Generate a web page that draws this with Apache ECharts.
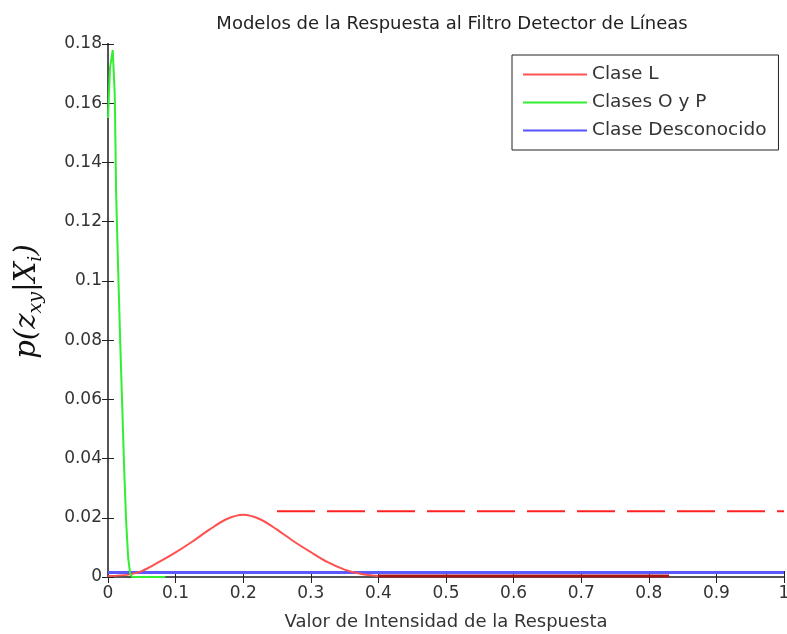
<!DOCTYPE html>
<html>
<head>
<meta charset="utf-8">
<script src="https://cdn.jsdelivr.net/npm/echarts@6/dist/echarts.min.js"></script>
<style>
  html, body { margin: 0; padding: 0; background: #fff; }
  #chart { width: 787px; height: 634px; }
</style>
</head>
<body>
<div id="chart"></div>
<script>
// Clase L (campana roja)
var claseLX = [0, 0.03, 0.05, 0.075, 0.1, 0.125, 0.15, 0.175, 0.2, 0.225, 0.25, 0.275, 0.3, 0.325, 0.35, 0.375, 0.4];
var claseLY = [0.0003, 0.0008, 0.002, 0.005, 0.0083, 0.012, 0.016, 0.0195, 0.021, 0.0195, 0.016, 0.012, 0.0084, 0.005, 0.0025, 0.001, 0.0003];
// cola de la Clase L (tramo oscuro en cero)
var colaLX = [0.4, 0.83];
var colaLY = [0.0003, 0.0003];
// linea discontinua roja
var umbralX = [0.25, 1];
var umbralY = [0.0222, 0.0222];
// Clases O y P
var claseOPX = [0, 0.003, 0.007, 0.01, 0.012, 0.015, 0.018, 0.021, 0.024, 0.027, 0.03, 0.033, 0.036, 0.045, 0.085];
var claseOPY = [0.155, 0.172, 0.178, 0.163, 0.13, 0.104, 0.08, 0.058, 0.036, 0.018, 0.006, 0.001, 0, 0, 0];
// Clase Desconocido
var desconX = [0, 1];
var desconY = [0.0015, 0.0015];

function pares(xs, ys) {
  var out = [];
  for (var i = 0; i < xs.length; i++) out.push([xs[i], ys[i]]);
  return out;
}

var myChart = echarts.init(document.getElementById("chart"));
var axisColor = "#555";
var fuente = "DejaVu Sans";

myChart.setOption({
  animation: false,
  title: {
    text: "Modelos de la Respuesta al Filtro Detector de Líneas",
    left: 447,
    textAlign: "center",
    top: 10,
    textStyle: { fontFamily: fuente, fontWeight: "normal", fontSize: 18, color: "#222" }
  },
  legend: {
    orient: "vertical",
    left: 512,
    top: 55,
    backgroundColor: "#fff",
    borderColor: "#222",
    borderWidth: 1,
    padding: [10, 12, 10, 11],
    itemWidth: 64,
    itemHeight: 17,
    itemGap: 9,
    icon: "path://M0,7 L64,7 L64,9 L0,9 Z",
    textStyle: { fontFamily: fuente, fontSize: 18.5, color: "#333" },
    data: ["Clase L", "Clases O y P", "Clase Desconocido"]
  },
  grid: { left: 108, right: 3, top: 44, bottom: 57, containLabel: false, outerBoundsMode: "none" },
  xAxis: [
    {
      type: "value",
      min: 0,
      max: 1,
      interval: 0.1,
      name: "Valor de Intensidad de la Respuesta",
      nameLocation: "middle",
      nameGap: 36,
      nameTextStyle: { fontFamily: fuente, fontSize: 18, color: "#333" },
      axisLine: { show: true, lineStyle: { color: axisColor, width: 2 } },
      axisTick: { inside: true, length: 6, lineStyle: { color: "#222" } },
      axisLabel: { fontFamily: fuente, fontSize: 17, color: "#333", margin: 8,
        formatter: function (v) { return String(Math.round(v * 10) / 10); } },
      splitLine: { show: false }
    },
    {
      type: "value",
      position: "top",
      min: 0,
      max: 1,
      interval: 0.1,
      axisLine: { show: true, lineStyle: { color: axisColor, width: 2 } },
      axisTick: { inside: true, length: 6, lineStyle: { color: "#222" } },
      axisLabel: { show: false },
      splitLine: { show: false }
    }
  ],
  yAxis: [
    {
      type: "value",
      min: 0,
      max: 0.18,
      interval: 0.02,
      name: "{n|p(z}{s|xy}{n||X}{s|i}{n|)}",
      nameLocation: "middle",
      nameGap: 62,
      nameRotate: 90,
      nameTextStyle: {
        padding: [0, 0, 0, 18],
        rich: {
          n: { fontFamily: "DejaVu Serif", fontStyle: "italic", fontSize: 29, color: "#111", lineHeight: 38, verticalAlign: "middle" },
          s: { fontFamily: "DejaVu Serif", fontStyle: "italic", fontSize: 19, color: "#111", lineHeight: 38, verticalAlign: "bottom", padding: [13, 0, 0, 0] }
        }
      },
      axisLine: { show: true, lineStyle: { color: axisColor, width: 2 } },
      axisTick: { inside: true, length: 6, lineStyle: { color: "#222" } },
      axisLabel: { fontFamily: fuente, fontSize: 17, color: "#333", margin: 6,
        formatter: function (v) { return String(Math.round(v * 100) / 100); } },
      splitLine: { show: false }
    },
    {
      type: "value",
      position: "right",
      min: 0,
      max: 0.18,
      interval: 0.02,
      axisLine: { show: true, lineStyle: { color: axisColor, width: 2 } },
      axisTick: { inside: true, length: 6, lineStyle: { color: "#222" } },
      axisLabel: { show: false },
      splitLine: { show: false }
    }
  ],
  series: [
    {
      name: "Clase Desconocido",
      type: "line",
      symbol: "none",
      color: "#5555ff",
      lineStyle: { width: 3, color: "#5a5aff" },
      data: pares(desconX, desconY),
      z: 2
    },
    {
      name: "Clase L",
      type: "line",
      symbol: "none",
      smooth: 0.3,
      color: "#ff5555",
      lineStyle: { width: 2, color: "#ff5050" },
      data: pares(claseLX, claseLY),
      z: 3
    },
    {
      name: "Clase L cola",
      type: "line",
      symbol: "none",
      lineStyle: { width: 3, color: "#a81818" },
      data: pares(colaLX, colaLY),
      z: 3
    },
    {
      name: "Umbral L",
      type: "line",
      symbol: "none",
      lineStyle: { width: 2, color: "#ff2020", type: [38, 12] },
      data: pares(umbralX, umbralY),
      z: 3
    },
    {
      name: "Clases O y P",
      type: "line",
      symbol: "none",
      color: "#33ee33",
      lineStyle: { width: 2, color: "#33ee33" },
      data: pares(claseOPX, claseOPY),
      z: 4
    }
  ]
});
</script>
</body>
</html>
